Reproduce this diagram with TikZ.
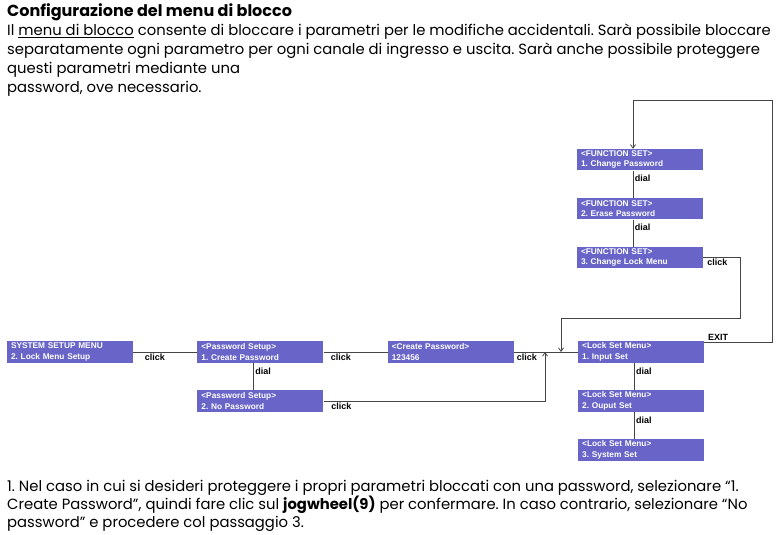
\documentclass[tikz,border=0pt]{standalone}
\usepackage{fontspec}
\setmainfont{Poppins}
\newfontfamily\boxfont{Liberation Sans}
\usepackage{xcolor}
\definecolor{MenuBlue}{HTML}{6864C8}
\definecolor{WireGray}{HTML}{454545}
\usepackage{tikz}
\usetikzlibrary{arrows.meta,positioning}
\frenchspacing

\begin{document}
\begin{tikzpicture}[x=1pt, y=-1pt, >={Straight Barb[length=3.5pt,width=5pt]}, node distance=27pt and 64pt,
  menubox/.style={fill=MenuBlue, text=white, minimum width=126pt, minimum height=21.5pt, inner sep=0pt, text width=118pt, align=left, font=\boxfont\bfseries\fontsize{8.3}{10.3}\selectfont},
  wire/.style={draw=WireGray, line width=.8pt},
  lbl/.style={font=\boxfont\bfseries\fontsize{9}{10}\selectfont, inner sep=1.5pt},
  para/.style={anchor=base west, inner sep=0pt, font=\fontsize{14.8}{17}\selectfont}]
  \useasboundingbox (0,0) rectangle (780,535);

  % text above and below
  \node[para, font=\bfseries\fontsize{16}{18}\selectfont] (title) at (7,17) {Configurazione del menu di blocco};
  \node[para] (intro1) at (7,36) {Il \underline{menu di blocco} consente di bloccare i parametri per le modifiche accidentali. Sarà possibile bloccare};
  \node[para] (intro2) at (7,55) {separatamente ogni parametro per ogni canale di ingresso e uscita. Sarà anche possibile proteggere};
  \node[para] (intro3) at (7,74) {questi parametri mediante una};
  \node[para] (intro4) at (7,92.5) {password, ove necessario.};
  \node[para] (note1) at (7,491) {1. Nel caso in cui si desideri proteggere i propri parametri bloccati con una password, selezionare “1.};
  \node[para] (note2) at (7,509) {Create Password”, quindi fare clic sul \textbf{jogwheel(9)} per confermare. In caso contrario, selezionare “No};
  \node[para] (note3) at (7,527) {password” e procedere col passaggio 3.};

  % menu boxes
  \node[menubox] (sys) at (70,352) {SYSTEM SETUP MENU\\2. Lock Menu Setup};
  \node[menubox, right=of sys] (pwcreate) {<Password Setup>\\1. Create Password};
  \node[menubox, below=of pwcreate] (pwnone) {<Password Setup>\\2. No Password};
  \node[menubox, right=of pwcreate] (newpw) {<Create Password>\\123456};
  \node[menubox, right=of newpw] (lockin) {<Lock Set Menu>\\1. Input Set};
  \node[menubox, below=of lockin] (lockout) {<Lock Set Menu>\\2. Ouput Set};
  \node[menubox, below=of lockout] (locksys) {<Lock Set Menu>\\3. System Set};
  \node[menubox] (fnlock) at (640,257.5) {<FUNCTION SET>\\3. Change Lock Menu};
  \node[menubox, above=of fnlock] (fnerase) {<FUNCTION SET>\\2. Erase Password};
  \node[menubox, above=of fnerase] (fnchange) {<FUNCTION SET>\\1. Change Password};

  \coordinate (pwjoin) at ([xshift=31pt]newpw.east);
  \coordinate (fnjoin) at ([xshift=47pt]newpw.east);

  % connectors
  \draw[wire] (sys) -- node[lbl, below, pos=.34] {click} (pwcreate);
  \draw[wire] (pwcreate) -- node[lbl, below, pos=.27] {click} (newpw);
  \draw[wire] (newpw) -- node[lbl, below, pos=.2] {click} (lockin);
  \draw[wire, ->] (pwnone) -| node[lbl, below, pos=.04] {click} (pwjoin);
  \draw[wire] ([xshift=-7pt]pwcreate.south) -- node[lbl, right, pos=.3] {dial} ([xshift=-7pt]pwnone.north);
  \draw[wire] ([xshift=-7pt]lockin.south) -- node[lbl, right, pos=.3] {dial} ([xshift=-7pt]lockout.north);
  \draw[wire] ([xshift=-7pt]lockout.south) -- node[lbl, right, pos=.3] {dial} ([xshift=-7pt]locksys.north);
  \draw[wire] ([xshift=-7pt]fnchange.south) -- node[lbl, right, pos=.3] {dial} ([xshift=-7pt]fnerase.north);
  \draw[wire] ([xshift=-7pt]fnerase.south) -- node[lbl, right, pos=.3] {dial} ([xshift=-7pt]fnlock.north);
  \draw[wire, ->] (fnlock.east) -- node[lbl, below, pos=.38] {click} ++(37,0) |- ([yshift=34pt]fnjoin) -- (fnjoin);
  \draw[wire, ->] ([yshift=-1pt]lockin.north east) -- node[lbl, above, pos=.2] {EXIT} ++(68,0) |- ([xshift=-7pt, yshift=48pt]fnchange.north) -- ([xshift=-7pt]fnchange.north);
\end{tikzpicture}
\end{document}
